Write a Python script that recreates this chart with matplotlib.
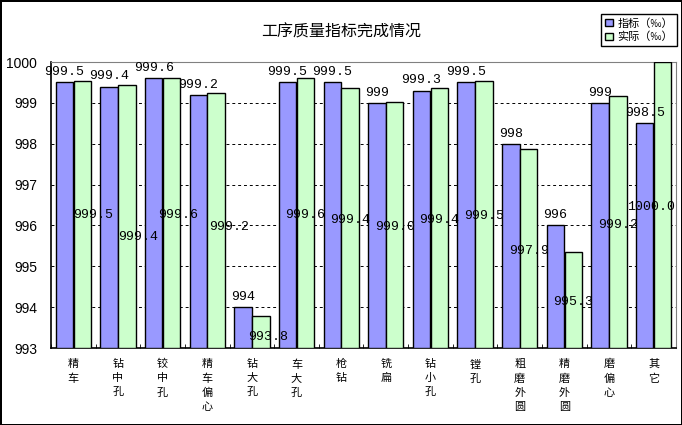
import numpy as np
import matplotlib
matplotlib.use("Agg")
import matplotlib.pyplot as plt

plt.rcParams['font.family'] = ['Noto Sans CJK SC', 'DejaVu Sans']

categories = ["精车", "钻中孔", "铰中孔", "精车偏心", "钻大孔", "车大孔", "枪钻",
              "铣扁", "钻小孔", "镗孔", "粗磨外圆", "精磨外圆", "磨偏心", "其它"]
target = [999.5, 999.4, 999.6, 999.2, 994, 999.5, 999.5,
          999, 999.3, 999.5, 998, 996, 999, 998.5]
actual = [999.54, 999.43, 999.6, 999.23, 993.78, 999.62, 999.37,
          999.03, 999.37, 999.54, 997.86, 995.34, 999.16, 1000.0]
series_names = ["指标（‰）", "实际（‰）"]
y_ticks = [993, 994, 995, 996, 997, 998, 999, 1000]

# hand-moved labels of the actual series, in pixels (right, down)
label_nudge = {0: (11, 1), 1: (11, 20), 2: (7, 2), 3: (13, 6), 4: (7, 5),
               12: (0, 3), 13: (-12, 2)}

base = 993
x = np.arange(len(categories))
w = 0.39

fig = plt.figure(figsize=(6.82, 4.25), dpi=100, edgecolor="black", linewidth=2)
ax = fig.add_axes([51 / 682, 1 - 348 / 425, 625 / 682, 286 / 425])

b1 = ax.bar(x - 0.2, np.array(target) - base, w, bottom=base, color="#9999ff",
            edgecolor="black", linewidth=1, label=series_names[0], zorder=3)
b2 = ax.bar(x + 0.2, np.array(actual) - base, w, bottom=base, color="#ccffcc",
            edgecolor="black", linewidth=1, label=series_names[1], zorder=3)

ax.bar_label(b1, labels=[f"{v:g}" for v in target], padding=3,
             family="Liberation Mono", fontsize=9.5, clip_on=False, zorder=5)
lbl2 = ax.bar_label(b2, labels=[f"{v:.1f}" for v in actual], label_type="center",
                    family="Liberation Mono", fontsize=9.5, zorder=5)
for i, t in enumerate(lbl2):
    dx, dy = label_nudge.get(i, (0, 2))
    t.xyann = (dx * 0.72, -dy * 0.72)

ax.set_xlim(-0.5, len(categories) - 0.5)
ax.set_ylim(993, 1000)
ax.set_yticks(y_ticks)
ax.set_yticklabels([str(t) for t in y_ticks], family="Liberation Sans", fontsize=10)
ax.tick_params(axis="y", length=0, pad=10)

ax.set_xticks(x)
ax.set_xticklabels(["\n".join(c) for c in categories], fontsize=8, linespacing=1.5)
ax.tick_params(axis="x", which="major", length=0, pad=8)
ax.set_xticks(np.arange(len(categories) + 1) - 0.5, minor=True)
ax.tick_params(axis="x", which="minor", direction="in", length=3, color="black")

ax.yaxis.grid(True, linestyle=(0, (3, 3)), linewidth=0.7, color="black", zorder=1)
ax.set_axisbelow(True)

for s in ["top", "right"]:
    ax.spines[s].set_color("#808080")
for s in ["left", "bottom"]:
    ax.spines[s].set_color("black")
    ax.spines[s].set_linewidth(1.2)

fig.text(341 / 682, 1 - 32 / 425, "工序质量指标完成情况", ha="center", va="center",
         fontsize=11.5)

leg = ax.legend(loc="upper right", bbox_to_anchor=(677 / 682, 1 - 14 / 425),
                bbox_transform=fig.transFigure, fontsize=8, frameon=True,
                fancybox=False, edgecolor="black", framealpha=1,
                handlelength=0.7, handleheight=0.7, handletextpad=0.4,
                borderpad=0.35, labelspacing=0.3, borderaxespad=0)
leg.get_frame().set_linewidth(1)

fig.savefig("out.png", dpi=100)
